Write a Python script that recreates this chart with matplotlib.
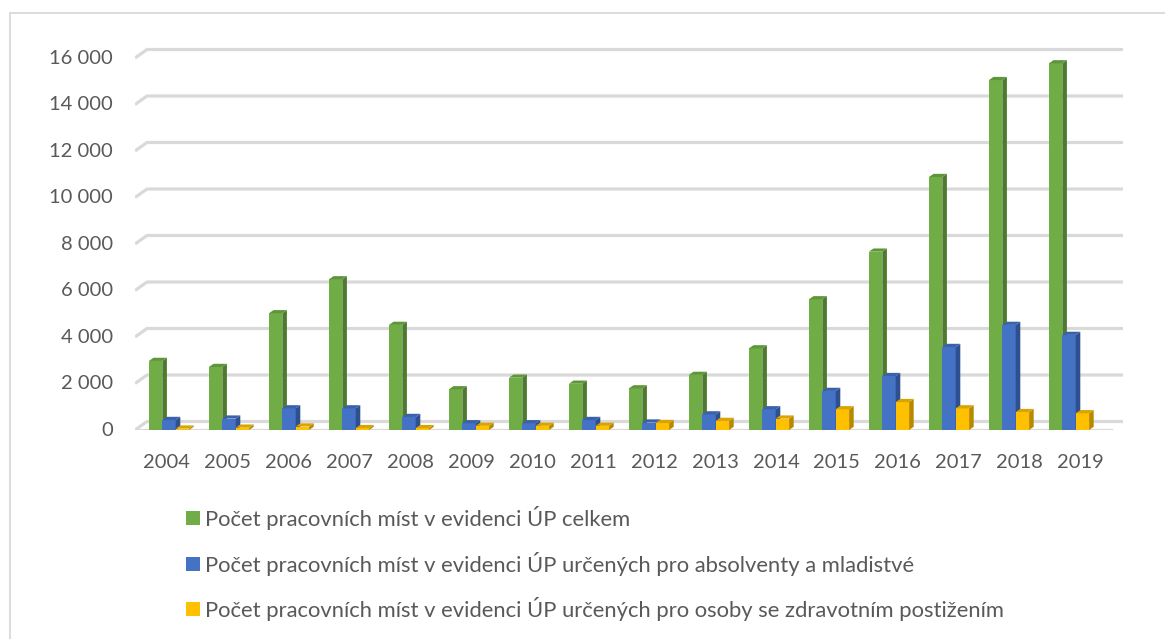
import matplotlib
matplotlib.use("Agg")
import matplotlib.pyplot as plt
from matplotlib.patches import Polygon, Patch, Rectangle

years = ["2004", "2005", "2006", "2007", "2008", "2009", "2010", "2011",
         "2012", "2013", "2014", "2015", "2016", "2017", "2018", "2019"]
celkem = [2970, 2710, 5020, 6480, 4520, 1750, 2250, 1990,
          1790, 2370, 3510, 5620, 7670, 10880, 15050, 15770]
absolventi = [430, 490, 930, 930, 560, 290, 290, 430,
              320, 670, 890, 1680, 2320, 3570, 4520, 4090]
postizeni = [60, 100, 150, 80, 80, 180, 180, 180,
             300, 390, 490, 890, 1200, 930, 770, 720]
labels = [
    "Počet pracovních míst v evidenci ÚP celkem",
    "Počet pracovních míst v evidenci ÚP určených pro absolventy a mladistvé",
    "Počet pracovních míst v evidenci ÚP určených pro osoby se zdravotním postižením",
]
series = [celkem, absolventi, postizeni]
# front, side, top
colors = [("#70AD47", "#4E7A2F", "#5E9639"),
          ("#4472C4", "#2F5090", "#3A62AB"),
          ("#FFC000", "#B88900", "#D9A300")]
yticks = list(range(0, 16001, 2000))

text_col = "#595959"
grid_col = "#D9D9D9"
plt.rcParams["font.family"] = ["Lato", "DejaVu Sans"]

W, H = 1165, 639
fig = plt.figure(figsize=(W / 100, H / 100), dpi=100)

# chart frame (cut off on the right and bottom)
fig.patches.append(Rectangle((9.5 / W, -0.1), 1.2, 1 - 13.5 / H + 0.1,
                             transform=fig.transFigure, fill=False,
                             edgecolor=grid_col, linewidth=1.3))

px_per_x = 60.0          # pixels per category
px_per_y = 0.02325       # pixels per unit of value
ax_left, ax_right, ax_bottom, ax_top = 135, 1123, 430, 40
ax = fig.add_axes([ax_left / W, 1 - ax_bottom / H,
                   (ax_right - ax_left) / W, (ax_bottom - ax_top) / H])
x0 = -(169 - ax_left) / px_per_x
ax.set_xlim(x0, x0 + (ax_right - ax_left) / px_per_x)
ax.set_ylim(0, (ax_bottom - ax_top) / px_per_y)
ax.axis("off")

# depth of the wall/floor and of the bars, in data units
back_dx, back_dy = 12 / px_per_x, 8.5 / px_per_y
bar_dx, bar_dy = 4.6 / px_per_x, 3.2 / px_per_y
bw = 13.4 / px_per_x
x_end = x0 + (ax_right - ax_left) / px_per_x

# back wall gridlines with the little diagonal at the left
for v in yticks:
    ax.plot([x0, x0 + back_dx, x_end], [v, v + back_dy, v + back_dy],
            color=grid_col, lw=2.3, solid_capstyle="butt", zorder=1)
    ax.text(x0 - 22 / px_per_x, v, f"{v:,}".replace(",", " "),
            ha="right", va="center", fontsize=14.5, color=text_col)
# front edge of the floor
ax.plot([x0, x_end - back_dx], [0, 0], color=grid_col, lw=2.3, zorder=1)

for i in range(len(years)):
    for s, vals in enumerate(series):
        front, side, top = colors[s]
        left = i + (s - 1.5) * bw
        h = vals[i]
        ax.bar(left, h, width=bw, align="edge", color=front,
               linewidth=0, zorder=2 + s)
        ax.add_patch(Polygon([(left + bw, 0), (left + bw + bar_dx, bar_dy),
                              (left + bw + bar_dx, h + bar_dy), (left + bw, h)],
                             closed=True, facecolor=side, linewidth=0, zorder=2 + s))
        ax.add_patch(Polygon([(left, h), (left + bw, h),
                              (left + bw + bar_dx, h + bar_dy), (left + bar_dx, h + bar_dy)],
                             closed=True, facecolor=top, linewidth=0, zorder=2 + s))
    ax.text(i * 60.9 / px_per_x - 2 / px_per_x, -33 / px_per_y, years[i],
            ha="center", va="center", fontsize=14.5, color=text_col)

handles = [Patch(facecolor=c[0], edgecolor="none") for c in colors]
fig.legend(handles, labels, loc="upper left",
           bbox_to_anchor=(186 / W, 1 - 506 / H), frameon=False,
           borderpad=0, borderaxespad=0, fontsize=15.8,
           labelcolor=text_col, handlelength=0.62, handleheight=0.62,
           handletextpad=0.25, labelspacing=0.98)

fig.savefig("out.png", dpi=100)
